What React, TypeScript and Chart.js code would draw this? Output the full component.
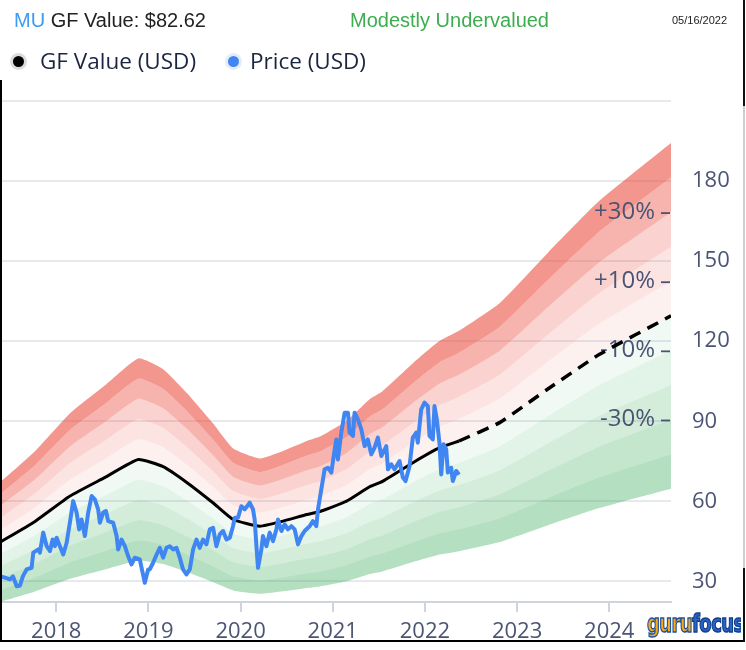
import React, { useEffect, useRef } from "react";
import { Chart, registerables } from "chart.js";

Chart.register(...registerables);

// ---- Data (decimal years) ----
const gfDates = [2017.39, 2017.77, 2018.15, 2018.53, 2018.89, 2019.16, 2019.42, 2019.7, 2019.92, 2020.21, 2020.46, 2020.72, 2020.86, 2021.15, 2021.4, 2021.54, 2021.87, 2022.16, 2022.37];
const gfValues = [44.7, 52.5, 62, 69, 75.7, 73, 67, 59.5, 53.2, 50.7, 52.6, 55.1, 56.2, 60.1, 65.5, 67.5, 74.5, 80.1, 82.62];

const projDates = [2022.37, 2022.81, 2023.33, 2023.89, 2024.67];
const projValues = [82.62, 89.5, 102, 115, 129.5];

const priceDates = [
  2017.39, 2017.444, 2017.498, 2017.531, 2017.571, 2017.607, 2017.639, 2017.679, 2017.733, 2017.751,
  2017.805, 2017.823, 2017.859, 2017.896, 2017.932, 2017.961, 2017.986, 2018.004, 2018.04, 2018.076,
  2018.113, 2018.148, 2018.184, 2018.221, 2018.249, 2018.275, 2018.311, 2018.347, 2018.384, 2018.419,
  2018.455, 2018.474, 2018.509, 2018.539, 2018.564, 2018.618, 2018.655, 2018.672, 2018.709, 2018.745,
  2018.78, 2018.817, 2018.853, 2018.907, 2018.926, 2018.961, 2018.997, 2019.015, 2019.051, 2019.088,
  2019.124, 2019.16, 2019.196, 2019.232, 2019.268, 2019.305, 2019.341, 2019.376, 2019.413, 2019.449,
  2019.485, 2019.522, 2019.557, 2019.593, 2019.63, 2019.666, 2019.702, 2019.738, 2019.774, 2019.81,
  2019.847, 2019.883, 2019.918, 2019.937, 2019.972, 2020.009, 2020.045, 2020.099, 2020.135, 2020.153,
  2020.172, 2020.189, 2020.226, 2020.243, 2020.28, 2020.316, 2020.352, 2020.389, 2020.406, 2020.443,
  2020.479, 2020.514, 2020.551, 2020.587, 2020.623, 2020.66, 2020.695, 2020.731, 2020.75, 2020.785,
  2020.822, 2020.84, 2020.876, 2020.912, 2020.948, 2020.985, 2021.021, 2021.039, 2021.056, 2021.093,
  2021.129, 2021.165, 2021.183, 2021.219, 2021.237, 2021.273, 2021.31, 2021.346, 2021.381, 2021.418,
  2021.454, 2021.49, 2021.527, 2021.581, 2021.599, 2021.635, 2021.671, 2021.725, 2021.761, 2021.79,
  2021.833, 2021.869, 2021.906, 2021.923, 2021.96, 2021.996, 2022.032, 2022.05, 2022.086, 2022.104,
  2022.129, 2022.158, 2022.177, 2022.202, 2022.231, 2022.249, 2022.285, 2022.303, 2022.34, 2022.37,
];
const priceValues = [
  32.0, 31.4, 30.75, 31.9, 28.2, 28.5, 32, 34.5, 35.1, 40.8,
  42, 40.8, 48.3, 43.2, 41.4, 45.7, 43.2, 46.4, 43.2, 40.1,
  44.5, 52, 60.1, 55.8, 49.5, 53.2, 47, 55.8, 62, 60.75,
  57, 52, 55.8, 56.4, 52.6, 52, 47, 42, 45.7, 43.2,
  39.5, 36.4, 38.9, 38.25, 35.1, 29.5, 34.5, 34.5, 37, 40,
  42.6, 38.9, 42.6, 43.2, 42, 42.6, 38.9, 34.5, 32.6, 34.5,
  42, 45.7, 42.6, 45.7, 43.9, 49.5, 50.1, 43.2, 47.6, 48.9,
  45.7, 46.4, 50.7, 53.9, 53.9, 58.2, 57, 59.5, 57, 53.2,
  43.2, 35.1, 42, 47, 43.2, 48.3, 45.1, 49.5, 53.2, 48.9,
  51.4, 49.5, 50.7, 49.5, 43.9, 47, 48.9, 50.1, 50.7, 52.6,
  50.7, 57, 64.5, 72, 72.6, 70.8, 79.5, 83.2, 75.7, 85.8,
  93.2, 93.2, 85.8, 84.5, 93.2, 90.75, 87, 80.7, 83.2, 77.6,
  80.1, 83.9, 77, 80.7, 72, 73.9, 72, 75.1, 68.9, 67.6,
  73.2, 83.9, 85.8, 82, 94.5, 97, 95.7, 84.5, 83.2, 95.7,
  90.75, 82, 70.1, 81.4, 79.5, 70.8, 72.6, 67.6, 71.4, 70,
];

const xTickYears = [2018, 2019, 2020, 2021, 2022, 2023, 2024];
const yTickValues = [30, 60, 90, 120, 150, 180, 210];

const bandFactors = [0.5, 0.6, 0.7, 0.8, 0.9, 1.0, 1.1, 1.2, 1.3, 1.4, 1.5];
// colours of the bands from bottom (0.5-0.6) to top (1.4-1.5)
const bandColors = [
  "rgba(52,168,83,0.37)",
  "rgba(52,168,83,0.29)",
  "rgba(52,168,83,0.21)",
  "rgba(52,168,83,0.14)",
  "rgba(52,168,83,0.065)",
  "rgba(234,67,53,0.075)",
  "rgba(234,67,53,0.14)",
  "rgba(234,67,53,0.24)",
  "rgba(234,67,53,0.40)",
  "rgba(234,67,53,0.56)",
];

const pctLabels = ["+30%", "+10%", "-10%", "-30%"];
const pctFactors = [1.3, 1.1, 0.9, 0.7];

const X_MIN = 2017.39;
const X_MAX = 2024.67;
const Y_MIN = 22.3;
const Y_MAX = 210;

const AXIS_COLOR = "#4b5573";

export default function App() {
  const canvasRef = useRef<HTMLCanvasElement | null>(null);

  useEffect(() => {
    const canvas = canvasRef.current;
    if (!canvas) return;

    const allDates = gfDates.concat(projDates.slice(1));
    const allValues = gfValues.concat(projValues.slice(1));
    const endGF = projValues[projValues.length - 1];

    const bandDatasets = bandFactors.map((f, i) => ({
      label: "band" + f,
      data: allDates.map((d, j) => ({ x: d, y: allValues[j] * f })),
      borderWidth: 0,
      pointRadius: 0,
      borderColor: "rgba(0,0,0,0)",
      backgroundColor: i === 0 ? "rgba(0,0,0,0)" : bandColors[i - 1],
      fill: i === 0 ? false : 3 + i - 1,
      tension: 0.15,
    }));

    const pctPlugin = {
      id: "pctLabels",
      afterDatasetDraw(chart: any, args: any) {
        if (args.index !== 3) return;
        const { ctx, chartArea, scales } = chart;
        ctx.save();
        ctx.font = '24px "Open Sans"';
        ctx.fillStyle = AXIS_COLOR;
        ctx.textAlign = "right";
        ctx.textBaseline = "middle";
        pctLabels.forEach((t, i) => {
          const y = scales.y.getPixelForValue(endGF * pctFactors[i]);
          ctx.fillText(t, chartArea.right - 16, y);
          ctx.fillRect(chartArea.right - 10, y, 9, 1.8);
        });
        ctx.restore();
      },
    };

    const chart = new Chart(canvas, {
      type: "line",
      data: {
        datasets: [
          {
            label: "Price (USD)",
            data: priceDates.map((d, i) => ({ x: d, y: priceValues[i] })),
            borderColor: "#3f86f2",
            borderWidth: 4,
            pointRadius: 0,
            fill: false,
            borderJoinStyle: "round",
            tension: 0,
          },
          {
            label: "GF Value (USD)",
            data: gfDates.map((d, i) => ({ x: d, y: gfValues[i] })),
            borderColor: "#000",
            borderWidth: 3,
            pointRadius: 0,
            fill: false,
            tension: 0.15,
          },
          {
            label: "GF Value projection",
            data: projDates.map((d, i) => ({ x: d, y: projValues[i] })),
            borderColor: "#000",
            borderWidth: 3.5,
            borderDash: [12, 8],
            pointRadius: 0,
            fill: false,
            tension: 0.15,
          },
          ...bandDatasets,
        ] as any,
      },
      options: {
        animation: false,
        responsive: false,
        devicePixelRatio: 1,
        layout: { padding: { top: 101, left: 0, right: 0, bottom: 8 } },
        plugins: {
          legend: { display: false },
          tooltip: { enabled: false },
        },
        scales: {
          x: {
            type: "linear",
            min: X_MIN,
            max: X_MAX,
            afterBuildTicks: (s: any) => {
              s.ticks = xTickYears.map((v) => ({ value: v }));
            },
            afterFit: (s: any) => {
              s.height = 40;
            },
            ticks: {
              autoSkip: false,
              maxRotation: 0,
              padding: 7,
              color: AXIS_COLOR,
              font: { family: "Open Sans", size: 22 },
              callback: (v: any) => String(v),
            },
            grid: {
              drawOnChartArea: false,
              drawTicks: true,
              tickLength: 10,
              color: "#cfd4db",
              lineWidth: 2,
            },
            border: { color: "#cfd4db", width: 2 },
          },
          y: {
            type: "linear",
            position: "right",
            min: Y_MIN,
            max: Y_MAX,
            afterBuildTicks: (s: any) => {
              s.ticks = yTickValues.map((v) => ({ value: v }));
            },
            afterFit: (s: any) => {
              s.width = 75;
            },
            ticks: {
              padding: 21,
              color: AXIS_COLOR,
              font: { family: "Open Sans", size: 22 },
              callback: (v: any) => (v === 210 ? "" : String(v)),
            },
            grid: {
              drawTicks: false,
              color: "#e6e9ee",
              lineWidth: 2,
            },
            border: { display: false },
          },
        },
      },
      plugins: [pctPlugin],
    });

    return () => chart.destroy();
  }, []);

  const legendText: React.CSSProperties = {
    position: "absolute",
    top: 45,
    fontFamily: '"Open Sans", sans-serif',
    fontSize: 22.5,
    color: "#1b2540",
    whiteSpace: "nowrap",
    lineHeight: "32px",
  };

  return (
    <div style={{ position: "absolute", left: 0, top: 0, width: 746, height: 650, background: "#fff", overflow: "hidden" }}>
      <canvas ref={canvasRef} width={746} height={650} style={{ position: "absolute", left: 0, top: 0, width: 746, height: 650 }} />

      {/* header */}
      <div style={{ position: "absolute", left: 14, top: 8, fontFamily: '"Liberation Sans", Arial, sans-serif', fontSize: 20, lineHeight: "24px", whiteSpace: "nowrap", color: "#222" }}>
        <span style={{ color: "#3d9bf2" }}>MU</span> GF Value: $82.62
      </div>
      <div style={{ position: "absolute", left: 350, top: 8, fontFamily: '"Liberation Sans", Arial, sans-serif', fontSize: 20, lineHeight: "24px", whiteSpace: "nowrap", color: "#3cae4f" }}>
        Modestly Undervalued
      </div>
      <div style={{ position: "absolute", left: 672, top: 13, fontFamily: '"Liberation Sans", Arial, sans-serif', fontSize: 11, lineHeight: "14px", whiteSpace: "nowrap", color: "#222" }}>
        05/16/2022
      </div>

      {/* legend */}
      <div style={{ position: "absolute", left: 10, top: 53, width: 17, height: 17, borderRadius: "50%", background: "#dcdcdc" }} />
      <div style={{ position: "absolute", left: 13, top: 56, width: 11, height: 11, borderRadius: "50%", background: "#000" }} />
      <div style={{ ...legendText, left: 40 }}>GF Value (USD)</div>
      <div style={{ position: "absolute", left: 225, top: 53, width: 17, height: 17, borderRadius: "50%", background: "#e3ecfb" }} />
      <div style={{ position: "absolute", left: 228, top: 56, width: 11, height: 11, borderRadius: "50%", background: "#3f86f2" }} />
      <div style={{ ...legendText, left: 250 }}>Price (USD)</div>

      {/* logo */}
      <div style={{ position: "absolute", left: 647, top: 609, width: 94, height: 32, overflow: "hidden" }}>
        <div style={{ transformOrigin: "0 0", transform: "scaleX(0.72)", fontFamily: '"DejaVu Sans", sans-serif', fontWeight: 700, fontSize: 25, lineHeight: "30px", letterSpacing: -0.8, whiteSpace: "nowrap" }}>
          <span style={{ color: "#f7a81b", WebkitTextStroke: "1.5px #1c4f9c" }}>guru</span>
          <span style={{ color: "#2a64c4", WebkitTextStroke: "1.5px #123f8a" }}>focus</span>
        </div>
      </div>

      {/* frame */}
      <div style={{ position: "absolute", left: 0, top: 80, width: 2, height: 562, background: "#000" }} />
      <div style={{ position: "absolute", left: 0, top: 640, width: 745, height: 2, background: "#000" }} />
      <div style={{ position: "absolute", left: 743, top: 0, width: 2, height: 106, background: "#111" }} />
      <div style={{ position: "absolute", left: 743, top: 106, width: 2, height: 462, background: "#cfcfcf" }} />
      <div style={{ position: "absolute", left: 743, top: 568, width: 2, height: 74, background: "#111" }} />
    </div>
  );
}
